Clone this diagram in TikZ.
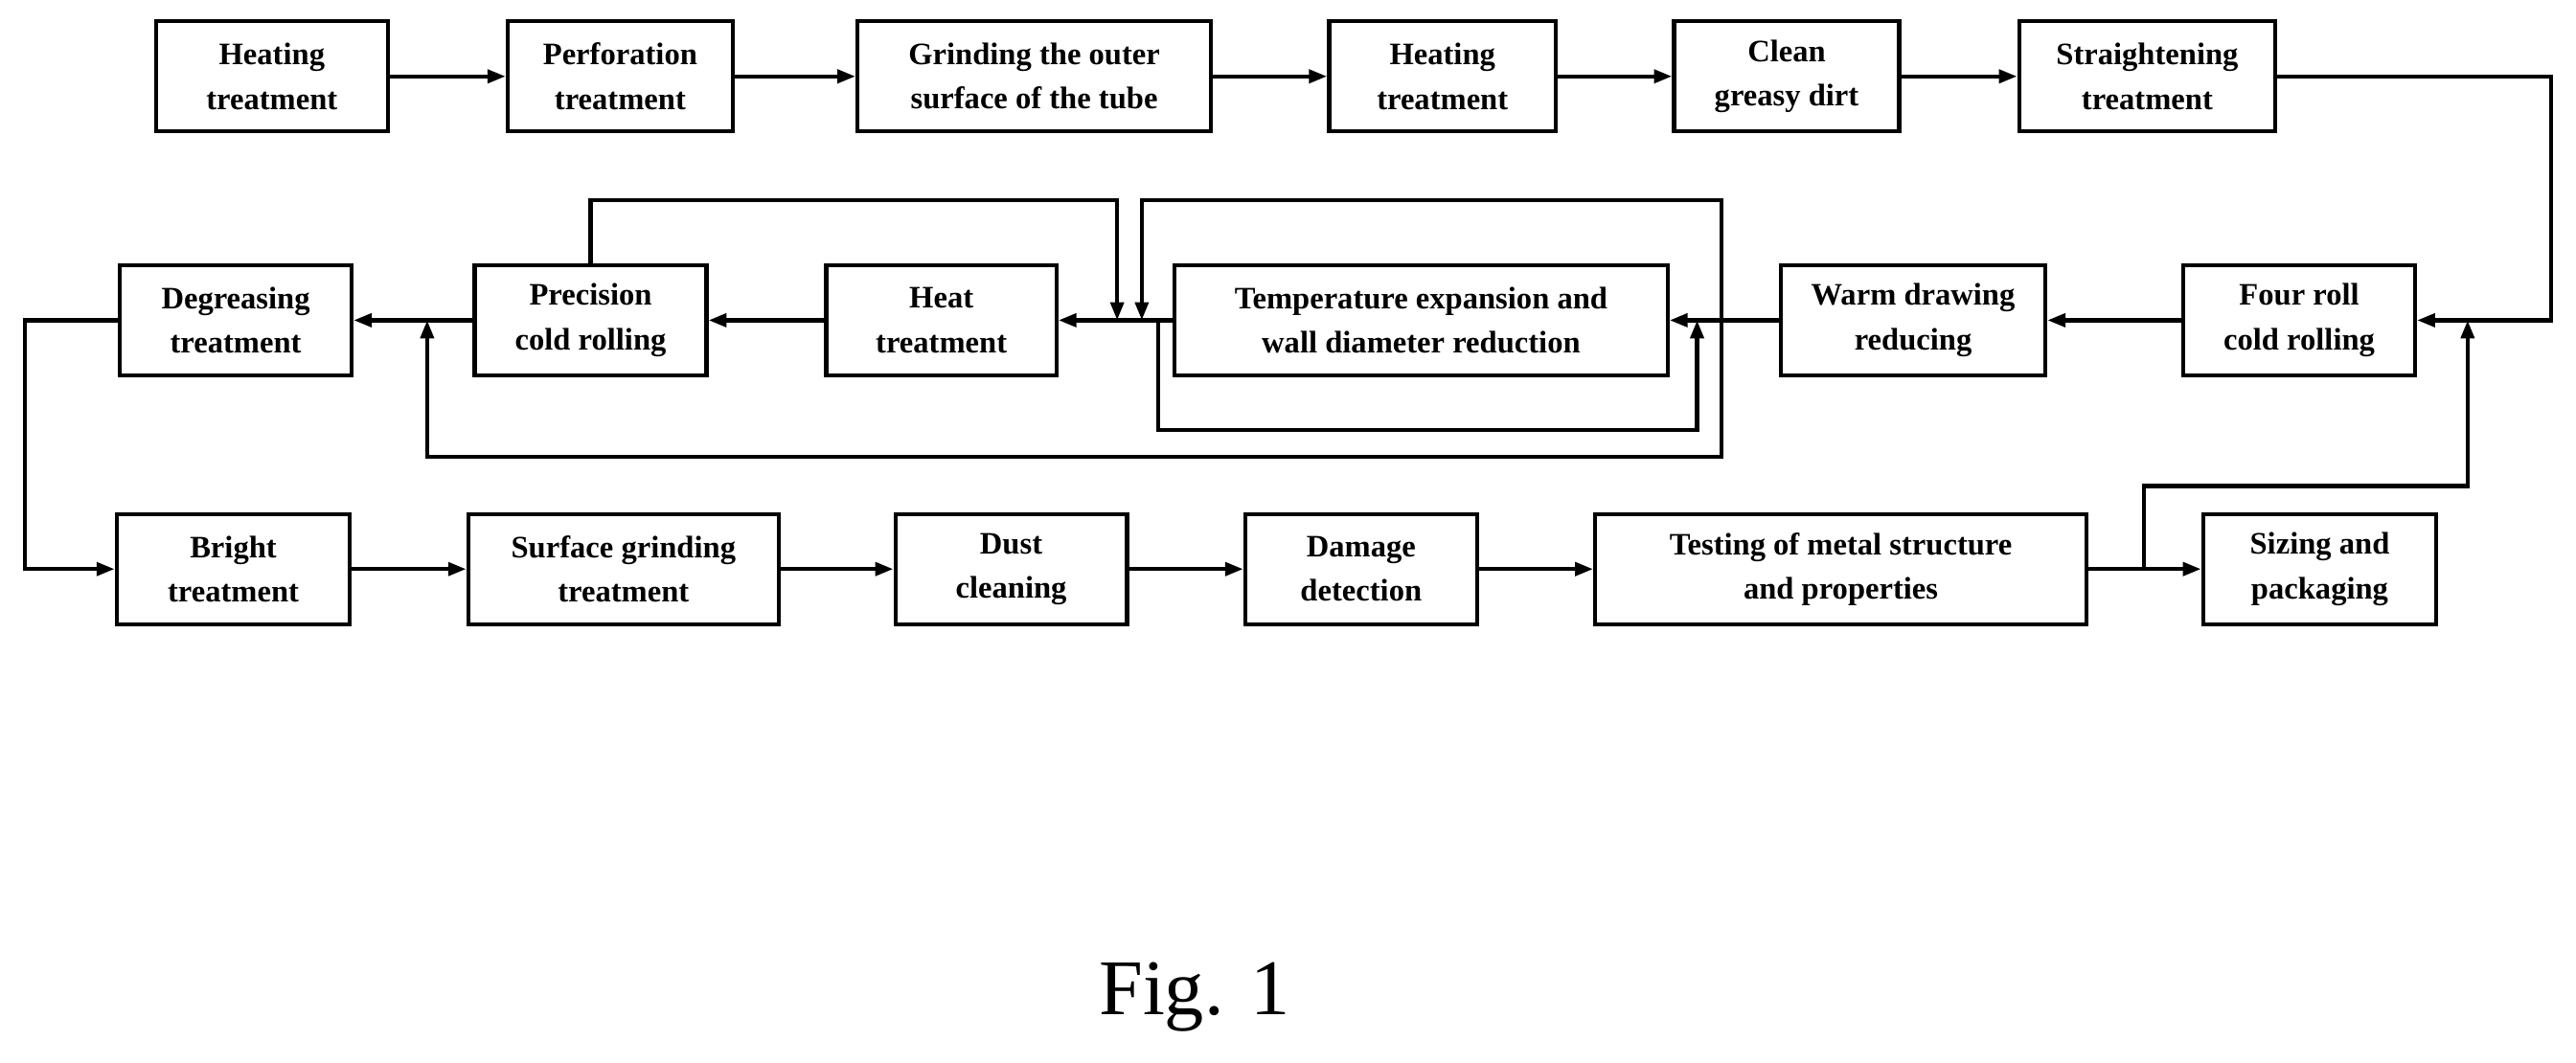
\documentclass[tikz,border=0pt]{standalone}
\usepackage{fontspec}
\setmainfont{Liberation Serif}
\usetikzlibrary{arrows.meta}
\begin{document}
\begin{tikzpicture}[x=1pt,y=-1pt,
  box/.style={draw,line width=2.5pt,minimum height=67pt,inner sep=0pt,align=center,font=\fontsize{19}{27}\selectfont\bfseries},
  ln/.style={line width=2.5pt},
  ar/.style={line width=2.5pt,-{Triangle[length=11pt,width=8pt]}}]
\useasboundingbox (0,0) rectangle (1568,647);
\node[box,minimum width=141pt] (a1) at (165.5,46.5) {Heating\\treatment};
\node[box,minimum width=137pt] (a2) at (377.5,46.5) {Perforation\\treatment};
\node[box,minimum width=215pt] (a3) at (629.5,46.5) {Grinding the outer\\surface of the tube};
\node[box,minimum width=138pt] (a4) at (878,46.5) {Heating\\treatment};
\node[box,minimum width=137pt] (a5) at (1087.5,46.5) {Clean\\greasy dirt};
\node[box,minimum width=156pt] (a6) at (1307,46.5) {Straightening\\treatment};
\node[box,minimum width=141pt] (b1) at (143.5,195) {Degreasing\\treatment};
\node[box,minimum width=141pt] (b2) at (359.5,195) {Precision\\cold rolling};
\node[box,minimum width=140pt] (b3) at (573,195) {Heat\\treatment};
\node[box,minimum width=300pt] (b4) at (865,195) {Temperature expansion and\\wall diameter reduction};
\node[box,minimum width=161pt] (b5) at (1164.5,195) {Warm drawing\\reducing};
\node[box,minimum width=141pt] (b6) at (1399.5,195) {Four roll\\cold rolling};
\node[box,minimum width=142pt] (c1) at (142,346.5) {Bright\\treatment};
\node[box,minimum width=189pt] (c2) at (379.5,346.5) {Surface grinding\\treatment};
\node[box,minimum width=141pt] (c3) at (615.5,346.5) {Dust\\cleaning};
\node[box,minimum width=141pt] (c4) at (828.5,346.5) {Damage\\detection};
\node[box,minimum width=299pt] (c5) at (1120.5,346.5) {Testing of metal structure\\and properties};
\node[box,minimum width=142pt] (c6) at (1412,346.5) {Sizing and\\packaging};
\node[font=\fontsize{48}{56}\selectfont] (fig) at (727,607) {Fig. 1};
\coordinate (j1) at (1305,346.5);
\coordinate (j2) at (1502,195);
\draw[ar] (a1) -- (a2);
\draw[ar] (a2) -- (a3);
\draw[ar] (a3) -- (a4);
\draw[ar] (a4) -- (a5);
\draw[ar] (a5) -- (a6);
\draw[ar] (a6.east) -- (1553,46.5) -- (1553,195) -- (b6.east);
\draw[ar] (b6) -- (b5);
\draw[ar] (b5) -- (b4);
\draw[ar] (b4) -- (b3);
\draw[ar] (b3) -- (b2);
\draw[ar] (b2) -- (b1);
\draw[ar] (b1.west) -- (15,195) -- (15,346.5) -- (c1.west);
\draw[ar] (c1) -- (c2);
\draw[ar] (c2) -- (c3);
\draw[ar] (c3) -- (c4);
\draw[ar] (c4) -- (c5);
\draw[ar] (c5) -- (c6);
\draw[ar] (j1) -- (1305,296) -- (1502,296) -- (j2);
\draw[ar] (b2.north) -- (359.5,122) -- (680,122) -- (680,195);
\draw[ar] (1048,195) -- (1048,122) -- (695,122) -- (695,195);
\draw[ar] (1048,195) -- (1048,278) -- (260,278) -- (260,195);
\draw[ar] (705,195) -- (705,262) -- (1033,262) -- (1033,195);
\end{tikzpicture}
\end{document}
